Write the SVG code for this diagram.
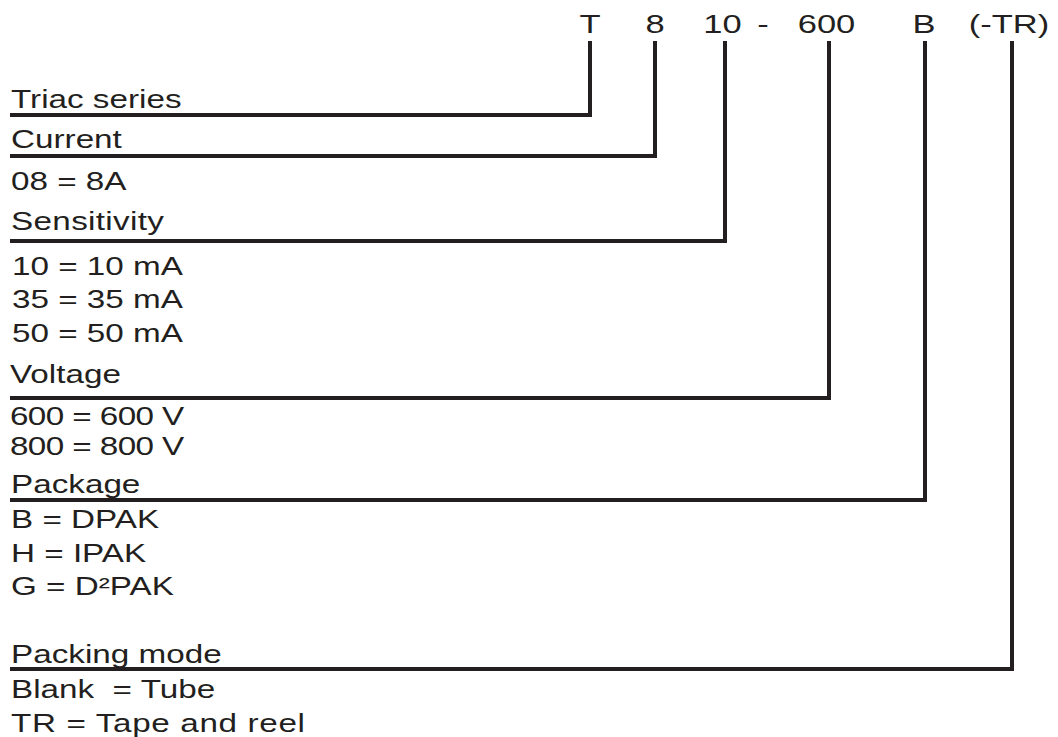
<svg xmlns="http://www.w3.org/2000/svg" width="1058" height="737" viewBox="0 0 1058 737">
<style>
text{font-family:"Liberation Sans",Arial,sans-serif;fill:#231f20;font-size:25px}
.h{text-anchor:middle}
.c{fill:none;stroke:#231f20;stroke-width:4;stroke-linejoin:miter}
</style>
<rect width="1058" height="737" fill="#fff"/>
<g id="header">
<text class="h" transform="translate(590 33) scale(1.38 1)">T</text>
<text class="h" transform="translate(655 33) scale(1.38 1)">8</text>
<text class="h" transform="translate(722.5 33) scale(1.38 1)">10</text>
<text class="h" transform="translate(763 33) scale(1.38 1)">-</text>
<text class="h" transform="translate(826.5 33) scale(1.38 1)">600</text>
<text class="h" transform="translate(924 33) scale(1.38 1)">B</text>
<text class="h" transform="translate(1009 33) scale(1.38 1)">(-TR)</text>
</g>
<g id="connectors">
<polyline class="c" points="10,115 590,115 590,41"/>
<polyline class="c" points="10,156 655,156 655,41"/>
<polyline class="c" points="10,241 725,241 725,41"/>
<polyline class="c" points="10,398 829,398 829,41"/>
<polyline class="c" points="10,500 925,500 925,41"/>
<polyline class="c" points="10,669 1012,669 1012,41"/>
</g>
<g id="series"><text transform="translate(11 108) scale(1.33 1)">Triac series</text></g>
<g id="current">
<text transform="translate(11 148) scale(1.33 1)">Current</text>
<text transform="translate(11 190) scale(1.33 1)">08 = 8A</text>
</g>
<g id="sensitivity">
<text transform="translate(11 230) scale(1.33 1)" textLength="115" lengthAdjust="spacing">Sensitivity</text>
<text transform="translate(12 275) scale(1.33 1)">10 = 10 mA</text>
<text transform="translate(12 308) scale(1.33 1)">35 = 35 mA</text>
<text transform="translate(12 342) scale(1.33 1)">50 = 50 mA</text>
</g>
<g id="voltage">
<text transform="translate(10 383) scale(1.33 1)">Voltage</text>
<text transform="translate(10 425) scale(1.33 1)" textLength="131" lengthAdjust="spacing">600 = 600 V</text>
<text transform="translate(10 455) scale(1.33 1)" textLength="131" lengthAdjust="spacing">800 = 800 V</text>
</g>
<g id="package">
<text transform="translate(11 493) scale(1.33 1)">Package</text>
<text transform="translate(11 528) scale(1.33 1)">B = DPAK</text>
<text transform="translate(11 562) scale(1.33 1)">H = IPAK</text>
<text transform="translate(11 595) scale(1.33 1)">G = D²PAK</text>
</g>
<g id="packing">
<text transform="translate(11 663) scale(1.33 1)">Packing mode</text>
<text transform="translate(11 698) scale(1.33 1)" xml:space="preserve">Blank  = Tube</text>
<text transform="translate(11 732) scale(1.33 1)" textLength="221" lengthAdjust="spacing">TR = Tape and reel</text>
</g>
</svg>
